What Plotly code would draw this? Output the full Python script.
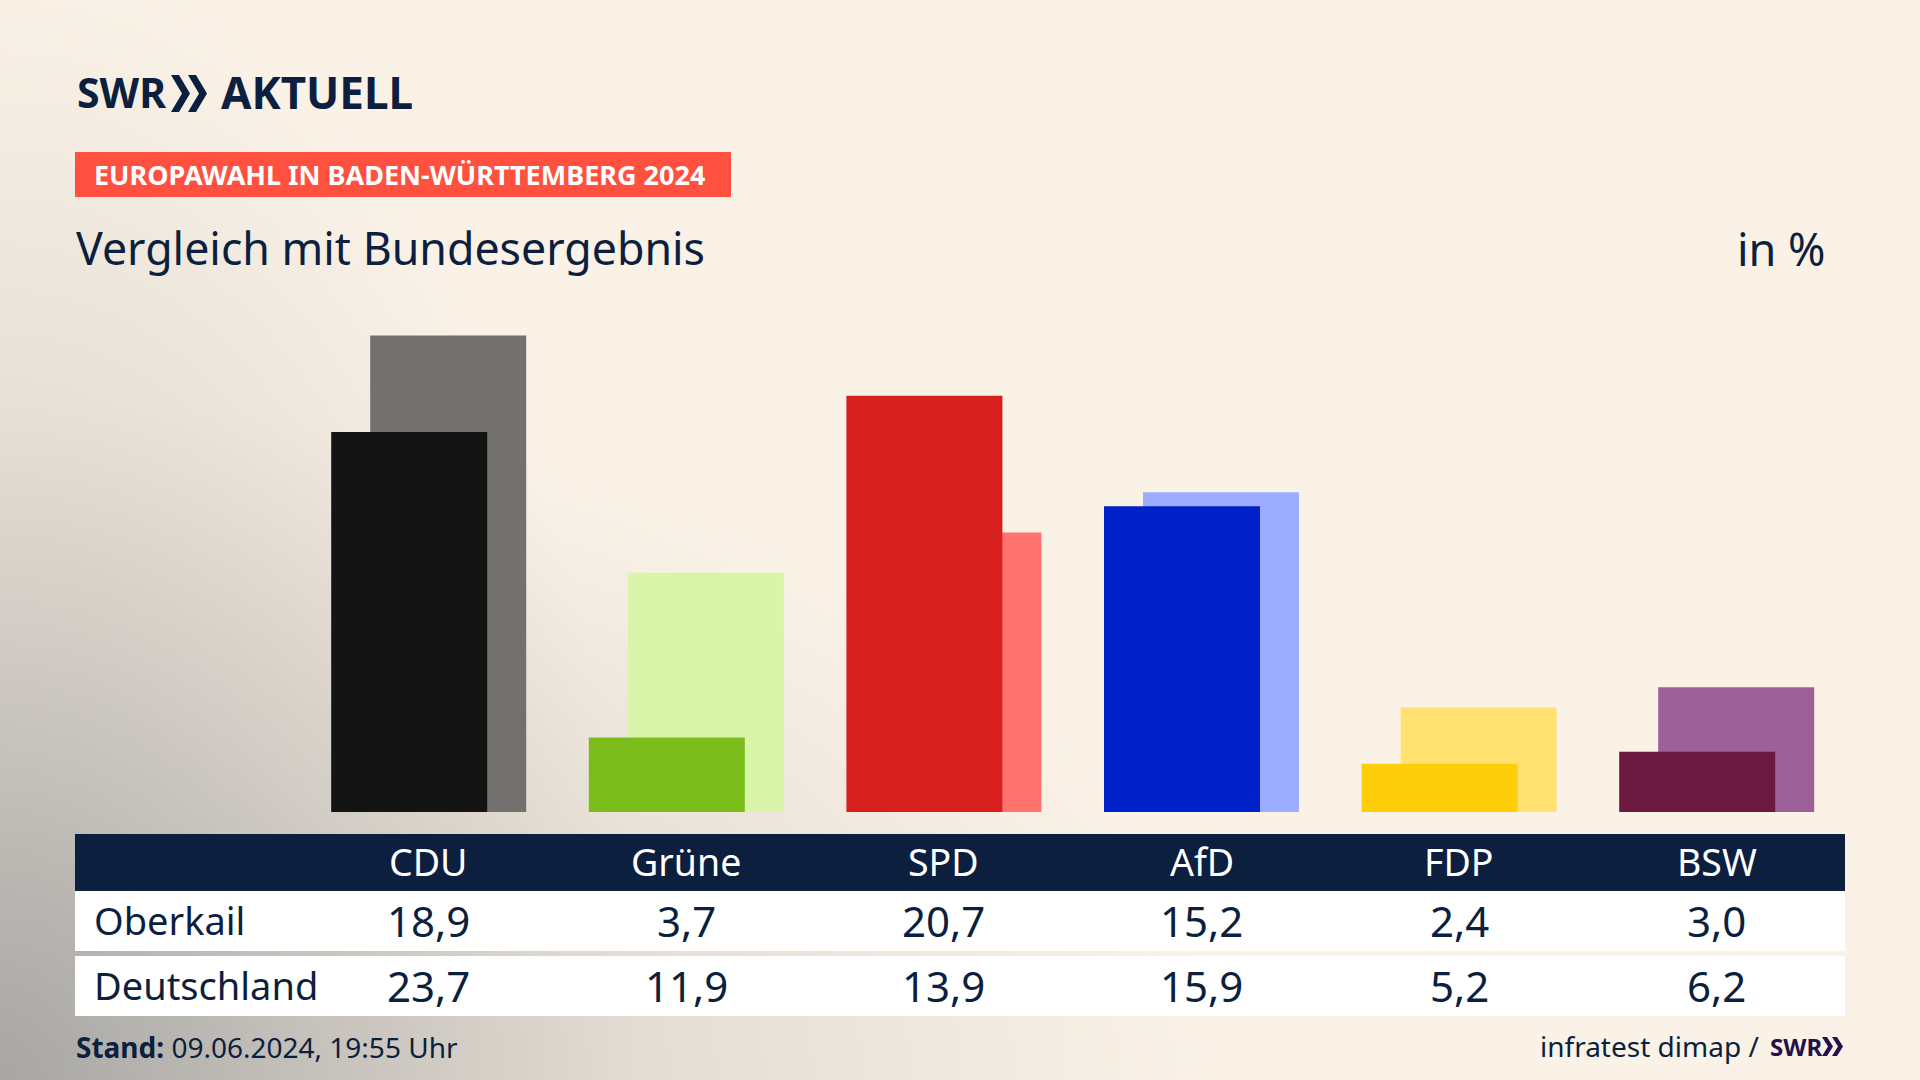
import base64
import plotly.graph_objects as go

categories = ["CDU", "Grüne", "SPD", "AfD", "FDP", "BSW"]
oberkail = [18.9, 3.7, 20.7, 15.2, 2.4, 3.0]
deutschland = [23.7, 11.9, 13.9, 15.9, 5.2, 6.2]
colors_oberkail = ["#141414", "#7ABD1A", "#D7201E", "#0021C7", "#FFCE0A", "#6A1A40"]
colors_deutschland = ["#72716E", "#D8F5A9", "#FF726E", "#9CACFF", "#FFE270", "#9B6096"]
row_names = ["Oberkail", "Deutschland"]

W, H = 1920, 1080
NAVY = "#0C1F3F"
FONT = "Noto Sans"
X0, STEP = 428.7, 257.6      # px of first category, px per category
Y0, PXU = 812, 20.11         # px of zero, px per percent
BAR_W = 156 / STEP
OFF_O = -97.5 / STEP
OFF_D = -58.5 / STEP


def px(x):
    return x / W


def py(y):
    return 1 - y / H


svg = f'''<svg xmlns="http://www.w3.org/2000/svg" width="{W}" height="{H}" viewBox="0 0 {W} {H}">
<defs>
<radialGradient id="a" gradientUnits="userSpaceOnUse" cx="0" cy="0" r="1" gradientTransform="translate(0 {H}) scale(1220 680)">
<stop offset="0" stop-color="#9a9a9a" stop-opacity=".62"/><stop offset=".5" stop-color="#a8a6a2" stop-opacity=".3"/><stop offset="1" stop-color="#b5aea4" stop-opacity="0"/>
</radialGradient>
<radialGradient id="b" gradientUnits="userSpaceOnUse" cx="0" cy="0" r="1" gradientTransform="translate(0 {H}) scale(640 1120)">
<stop offset="0" stop-color="#9a9a9a" stop-opacity=".62"/><stop offset=".5" stop-color="#a8a6a2" stop-opacity=".3"/><stop offset="1" stop-color="#b5aea4" stop-opacity="0"/>
</radialGradient>
</defs>
<rect width="{W}" height="{H}" fill="#FAF2E7"/>
<rect width="{W}" height="{H}" fill="url(#a)"/>
<rect width="{W}" height="{H}" fill="url(#b)"/>
</svg>'''
bg_uri = "data:image/svg+xml;base64," + base64.b64encode(svg.encode()).decode()

fig = go.Figure()
fig.add_bar(x=categories, y=deutschland, width=BAR_W, offset=OFF_D,
            marker=dict(color=colors_deutschland, line_width=0), name="Deutschland")
fig.add_bar(x=categories, y=oberkail, width=BAR_W, offset=OFF_O,
            marker=dict(color=colors_oberkail, line_width=0), name="Oberkail")

shapes = []


def rect(x0, y0, x1, y1, color):
    shapes.append(dict(type="rect", xref="paper", yref="paper", x0=px(x0), x1=px(x1),
                       y0=py(y1), y1=py(y0), fillcolor=color, line_width=0, layer="below"))


def chevrons(points_list, color):
    for pts in points_list:
        p = "M" + " L".join(f"{px(a):.5f},{py(b):.5f}" for a, b in pts) + " Z"
        shapes.append(dict(type="path", xref="paper", yref="paper", path=p,
                           fillcolor=color, line_width=0, layer="above"))


rect(75, 152, 731, 197, "#FF5040")
rect(75, 834, 1845, 891, NAVY)
rect(75, 891, 1845, 951, "#FFFFFF")
rect(75, 956, 1845, 1016, "#FFFFFF")


def chev(x, top, bot, w, thick):
    mid = (top + bot) / 2
    return [(x, top), (x + thick, top), (x + w, mid), (x + thick, bot), (x, bot), (x + w - thick, mid)]


chevrons([chev(171, 75, 112, 19, 8), chev(188, 75, 112, 19, 8)], NAVY)
chevrons([chev(1822, 1037, 1056, 11, 5), chev(1832, 1037, 1056, 11, 5)], "#24104A")

ann = []


def text(x, y, s, size, color=NAVY, anchor="left", xref="paper", bold=False, family=FONT):
    ann.append(dict(x=px(x) if xref == "paper" else x, y=py(y), xref=xref, yref="paper",
                    text=f"<b>{s}</b>" if bold else s, showarrow=False, xanchor=anchor, yanchor="middle",
                    align=anchor, font=dict(family=family, size=size, color=color)))


text(75, 92, "SWR", 41, bold=True)
text(219, 92, "AKTUELL", 44, bold=True)
text(92, 175, "EUROPAWAHL IN BADEN-WÜRTTEMBERG 2024", 27, color="#FFFFFF", bold=True)
text(74, 247, "Vergleich mit Bundesergebnis", 44.7)
text(1828, 248, "in %", 45, anchor="right")
text(92, 920, row_names[0], 38)
text(92, 985, row_names[1], 38)
for c, a, b in zip(categories, oberkail, deutschland):
    text(c, 861, c, 37.5, color="#FFFFFF", anchor="center", xref="x")
    text(c, 920, f"{a:.1f}".replace(".", ","), 42, anchor="center", xref="x")
    text(c, 985, f"{b:.1f}".replace(".", ","), 42, anchor="center", xref="x")
text(74, 1047, "<b>Stand:</b> 09.06.2024, 19:55 Uhr", 28)
text(1761, 1046, "infratest dimap /", 28, anchor="right")
text(1768, 1046, "SWR", 24, color="#24104A", bold=True)

fig.update_layout(
    width=W, height=H, autosize=False, showlegend=False, barmode="overlay",
    margin=dict(l=0, r=0, t=0, b=0),
    paper_bgcolor="#FAF2E7", plot_bgcolor="rgba(0,0,0,0)",
    images=[dict(source=bg_uri, xref="paper", yref="paper", x=0, y=1, sizex=1, sizey=1,
                 sizing="stretch", xanchor="left", yanchor="top", layer="below")],
    shapes=shapes, annotations=ann,
    xaxis=dict(type="category", categoryorder="array", categoryarray=categories,
               range=[-X0 / STEP, (W - X0) / STEP], visible=False, domain=[0, 1]),
    yaxis=dict(range=[-(H - Y0) / PXU, Y0 / PXU], visible=False, domain=[0, 1]),
)

fig.write_html("out.html", config=dict(displayModeBar=False),
               post_script="document.body.style.margin='0';document.documentElement.style.overflow='hidden';")
